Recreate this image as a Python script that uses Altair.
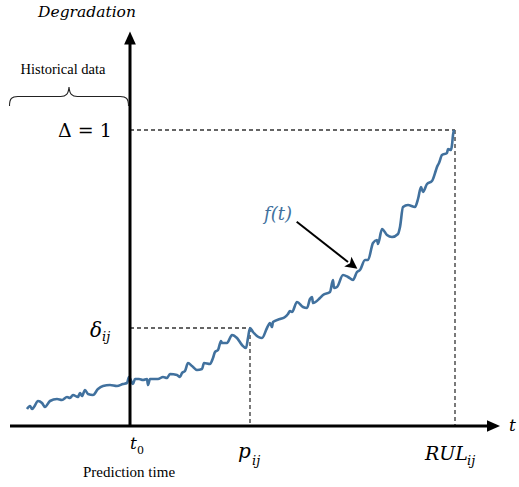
import altair as alt
import pandas as pd

# Degradation curve: time relative to t0, degradation height
curve_t = [-103, -100, -98, -96, -92, -88, -85, -80, -73, -68, -63, -60, -57, -52, -50, -48,
           -45, -42, -37, -32, -27, -20, -13, -7, -3, -1, 3, 5, 9, 13, 17, 18, 20, 28, 33, 37,
           40, 47, 50, 52, 55, 58, 62, 67, 72, 74, 80, 83, 85, 88, 91, 92, 97, 102, 107, 112,
           116, 118, 120, 123, 132, 137, 140, 142, 143, 150, 155, 158, 160, 162, 167, 173, 177,
           180, 182, 183, 190, 193, 200, 203, 204, 207, 213, 218, 223, 227, 230, 235, 238, 243,
           247, 248, 252, 257, 262, 268, 270, 273, 278, 285, 288, 291, 293, 297, 302, 306, 307,
           309, 312, 317, 318, 321, 322, 323, 324]
curve_d = [17, 20, 17, 19, 25, 23, 19, 25, 27, 26, 29, 28, 31, 29, 33, 30,
           36, 32, 31, 37, 40, 41, 40, 42, 43, 49, 42, 47, 47, 46, 47, 41, 47, 47, 49, 48,
           52, 51, 49, 53, 55, 63, 60, 56, 57, 63, 62, 68, 74, 76, 85, 83, 83, 91, 88, 81,
           78, 88, 98, 94, 88, 98, 103, 99, 104, 107, 109, 112, 115, 114, 124, 119, 118,
           127, 129, 123, 128, 131, 134, 146, 138, 139, 151, 149, 146, 154, 156, 166, 166, 183,
           186, 182, 197, 191, 189, 192, 199, 219, 221, 219, 227, 239, 234, 242, 245, 256, 259,
           263, 271, 273, 277, 276, 281, 291, 296]

# Key values
T0 = 0
P_IJ = 120
RUL_IJ = 325
DELTA = 296
DELTA_IJ = 98
X_AXIS = [-120, 358]   # horizontal axis line extent
Y_AXIS = [0, 382]      # vertical axis line extent

BLUE = "#41719e"
DASH = "#333333"

xs = alt.Scale(domain=[-130, 389], nice=False, zero=False)
ys = alt.Scale(domain=[-61, 426], nice=False, zero=False)


def X(f):
    return alt.X(f, type="quantitative", scale=xs, axis=None)


def Y(f):
    return alt.Y(f, type="quantitative", scale=ys, axis=None)


curve_df = pd.DataFrame({"t": curve_t, "d": curve_d, "i": range(len(curve_t))})
curve = alt.Chart(curve_df).mark_line(color=BLUE, strokeWidth=2.6, strokeJoin="round",
                                      interpolate="monotone").encode(
    x=X("t"), y=Y("d"), order="i:Q")

axes_df = pd.DataFrame({
    "t": [X_AXIS[0], T0], "t2": [X_AXIS[1], T0],
    "d": [0, Y_AXIS[0]], "d2": [0, Y_AXIS[1]],
})
axes = alt.Chart(axes_df).mark_rule(color="black", strokeWidth=3).encode(
    x=X("t"), x2="t2", y=Y("d"), y2="d2")

heads_df = pd.DataFrame({"t": [T0, 363.5], "d": [388, 0],
                         "shape": ["M0,-1L-0.9,1L0.9,1Z", "M1,0L-1,-0.9L-1,0.9Z"]})
heads = alt.Chart(heads_df).mark_point(filled=True, color="black", size=169, opacity=1).encode(
    x=X("t"), y=Y("d"), shape=alt.Shape("shape:N", scale=None))

dash_df = pd.DataFrame({
    "t": [T0, RUL_IJ, T0, P_IJ], "t2": [RUL_IJ, RUL_IJ, P_IJ, P_IJ],
    "d": [DELTA, DELTA, DELTA_IJ, DELTA_IJ], "d2": [DELTA, 0, DELTA_IJ, 0],
})
dashes = alt.Chart(dash_df).mark_rule(color=DASH, strokeWidth=1.3, strokeDash=[4, 3]).encode(
    x=X("t"), x2="t2", y=Y("d"), y2="d2")

# f(t) pointer
ptr_df = pd.DataFrame({"t": [166.7], "t2": [218], "d": [204.3], "d2": [164]})
ptr = alt.Chart(ptr_df).mark_rule(color="black", strokeWidth=2).encode(
    x=X("t"), x2="t2", y=Y("d"), y2="d2")
ptr_head = alt.Chart(pd.DataFrame({"t": [222.6], "d": [160.8]})).mark_point(
    filled=True, color="black", size=144, opacity=1, angle=37,
    shape="M1,0L-1,-1L-0.55,0L-1,1Z").encode(x=X("t"), y=Y("d"))

# brace over historical data
brace = alt.Chart(pd.DataFrame({"t": [-61], "d": [329.5]})).mark_point(
    filled=False, color="#222222", strokeWidth=1.1, size=14161, opacity=1,
    shape="M-1,0.16C-1,0.03 -0.96,0 -0.86,0L-0.14,0C-0.05,0 -0.01,-0.04 0,-0.16"
          "C0.01,-0.04 0.05,0 0.14,0L0.86,0C0.96,0 1,0.03 1,0.16").encode(x=X("t"), y=Y("d"))


def label(text, t, d, size, align="left", italic=True, font="DejaVu Serif", color="black"):
    kw = dict(align=align, baseline="alphabetic", fontSize=size, font=font, color=color)
    if italic:
        kw["fontStyle"] = "italic"
    return alt.Chart(pd.DataFrame({"t": [t], "d": [d], "s": [text]})).mark_text(**kw).encode(
        x=X("t"), y=Y("d"), text="s:N")


labels = [
    label("Degradation", -43, 409, 15.5, align="center"),
    label("Historical data", -67, 352, 14.5, align="center", italic=False, font="Liberation Serif"),
    label("Δ = 1", -45, 289, 19, align="center", italic=False),
    label("δ", -28, 89, 20, align="right"),
    label("ij", -28, 85, 13),
    label("t", 0, -23, 17),
    label("0", 7, -28, 11, italic=False),
    label("Prediction time", -1, -51, 15, align="center", italic=False, font="Liberation Serif"),
    label("p", 108, -32, 20),
    label("ij", 122, -39, 13),
    label("RUL", 295, -34, 19),
    label("ij", 337, -39, 13),
    label("t", 379, -5, 17),
    label("f(t)", 148, 206, 18, align="center", color=BLUE),
]

chart = alt.layer(dashes, curve, axes, heads, ptr, ptr_head, brace, *labels).properties(
    width=519, height=487, autosize=alt.AutoSizeParams(type="none"), padding=0
).configure_view(stroke=None)

chart.save("out.html", embed_options={"renderer": "svg", "actions": False})
